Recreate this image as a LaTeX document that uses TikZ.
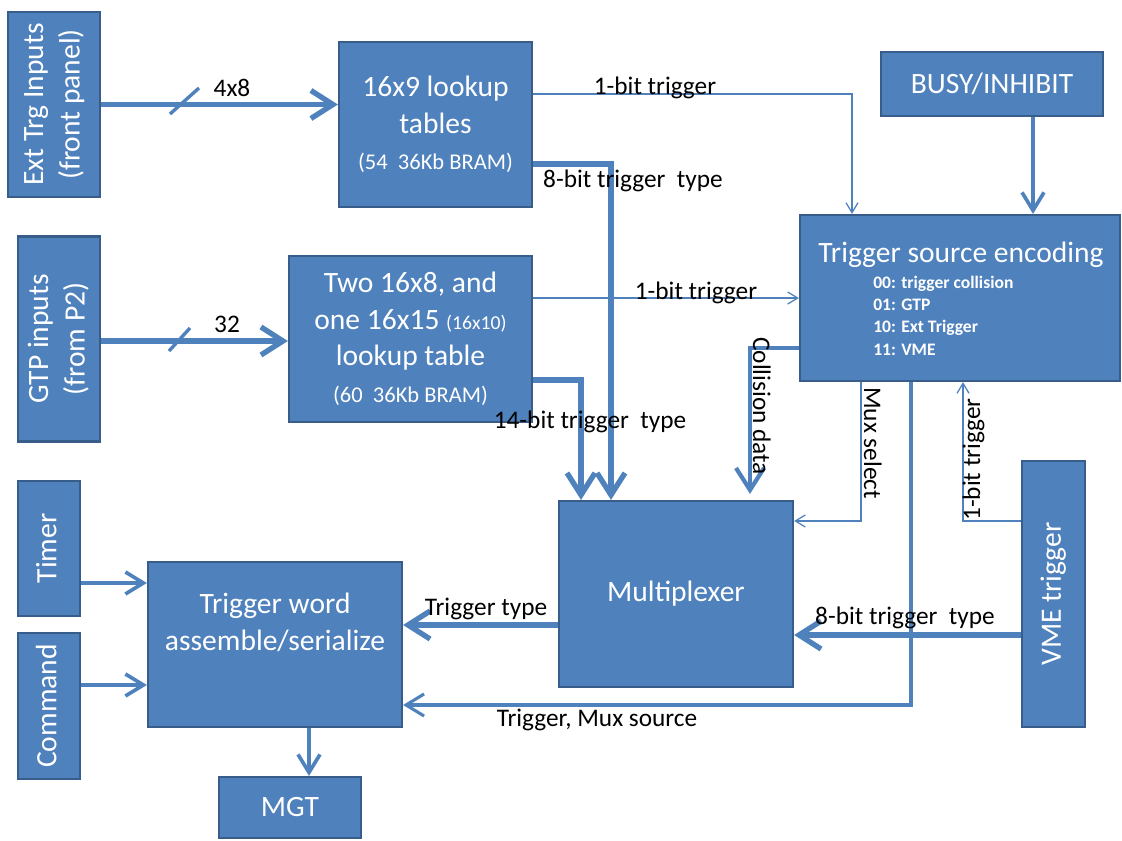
\documentclass[tikz,border=0pt]{standalone}
\usepackage{fontspec}
\setmainfont{Carlito}
\usetikzlibrary{positioning,arrows.meta,calc}
\definecolor{TrgBlue}{RGB}{79,129,189}
\definecolor{TrgEdge}{RGB}{56,93,138}
\newcommand\trgbig{\fontsize{21}{26}\selectfont}
\newcommand\trgsub{\fontsize{16}{19}\selectfont}
\newcommand\trgtiny{\fontsize{14}{17}\selectfont}
\newcommand\trglbl{\fontsize{18}{21}\selectfont}
\newcommand\trgcode{\fontsize{12.5}{15}\selectfont\bfseries}
\newcommand\vtxt[1]{\rotatebox{90}{\begin{tabular}{@{}c@{}}#1\end{tabular}}}
\tikzset{
  bigtip/.tip={Straight Barb[length=5.5mm,width=7mm]},
  midtip/.tip={Straight Barb[length=4.5mm,width=5.5mm]},
  smalltip/.tip={Straight Barb[length=2.5mm,width=3mm]},
  trg box/.style={
    draw=TrgEdge,
    line width=1.5pt,
    fill=TrgBlue,
    text=white,
    font=\trgbig,
    align=center,
    inner sep=0pt
  },
  trg inner/.style={text=white, font=\trgbig, align=center, inner sep=0pt},
  trg lbl/.style={font=\trglbl, anchor=base, inner sep=0pt},
  trg bus/.style={draw=TrgBlue, line width=3.8pt, -bigtip},
  trg wire/.style={draw=TrgBlue, line width=2.6pt, -midtip},
  trg thin/.style={draw=TrgBlue, line width=0.9pt, -smalltip},
  trg tick/.style={draw=TrgBlue, line width=2.4pt}
}
\begin{document}
\begin{tikzpicture}[x=0.025cm, y=-0.025cm]
\useasboundingbox (0,0) rectangle (1122,840);
\node[trg box, minimum width=2.3cm, minimum height=4.625cm] (exttrg) at (54,104.5) {\vtxt{Ext Trg Inputs\\(front panel)}};
\node[trg box, minimum width=4.825cm, minimum height=4.125cm] (lut1) at (435.5,124.5) {16x9 lookup\\tables\\{\trgsub (54\ \ 36Kb BRAM)}};
\node[trg box, minimum width=5.55cm, minimum height=1.6cm] (busy) at (992,84) {BUSY/INHIBIT};
\node[trg box, minimum width=8cm, minimum height=4.15cm] (enc) at (960,298) {};
\node[trg box, minimum width=2.05cm, minimum height=5.125cm] (gtp) at (59,339) {\vtxt{GTP inputs\\(from P2)}};
\node[trg box, minimum width=6.075cm, minimum height=4.15cm] (lut2) at (410.5,339) {Two 16x8, and\\one 16x15 {\trgtiny (16x10)}\\lookup table\\{\trgsub (60\ \ 36Kb BRAM)}};
\node[trg box, minimum width=5.85cm, minimum height=4.65cm] (mux) at (676,594) {Multiplexer};
\node[trg box, minimum width=1.575cm, minimum height=6.65cm] (vme) at (1053.5,594) {\vtxt{VME trigger}};
\node[trg box, minimum width=1.55cm, minimum height=3.375cm] (timer) at (49,548.5) {\vtxt{Timer}};
\node[trg box, minimum width=1.55cm, minimum height=3.65cm] (cmd) at (49,706) {\vtxt{Command}};
\node[trg box, minimum width=6.35cm, minimum height=4.125cm,
  label={[trg inner, yshift=0.55cm]center:Trigger word\\assemble/serialize}] (tword) at (275,644.5) {};
\node[trg box, minimum width=3.55cm, minimum height=1.525cm] (mgt) at (290,807.5) {MGT};

\node[trg inner, anchor=base] (enctitle) at (961,262) {Trigger source encoding};
\foreach \code [count=\i] in {00: trigger collision, 01: GTP, 10: Ext Trigger, 11: VME}
  \node[trg inner, font=\trgcode, anchor=base west] (enc\i) at (873,{265.6+22.4*\i}) {\code};

\draw[trg bus] (exttrg.east) -- (exttrg.east -| lut1.west);
\draw[trg tick] (170,114) -- (199,88);
\draw[trg bus] (gtp.east |- 0,341) -- (lut2.west |- 0,341);
\draw[trg tick] (169,351) -- (190,328);
\draw[trg thin] (lut1.east |- 0,94) -| (enc.north -| 852,0);
\draw[trg bus] (lut1.east |- 0,164) -| (mux.north -| 611,0);
\draw[trg wire] (busy.south -| 1033,0) -- (enc.north -| 1033,0);
\draw[trg thin] (lut2.east |- 0,298) -- (enc.west |- 0,298);
\draw[trg bus] (lut2.east |- 0,380) -| (mux.north -| 581,0);
\draw[trg bus, line width=3pt, shorten >=0.15cm] (enc.west |- 0,348) -| (mux.north -| 750,0);
\draw[trg thin] (enc.south -| 861,0) |- (mux.east |- 0,521);
\draw[trg wire, line width=2.2pt] (enc.south -| 911,0) |- (tword.east |- 0,705);
\draw[trg thin] (vme.west |- 0,521) -| (enc.south -| 963,0);
\draw[trg bus] (vme.west |- 0,635) -- (mux.east |- 0,635);
\draw[trg bus] (mux.west |- 0,625) -- (tword.east |- 0,625);
\draw[trg wire] (timer.east |- 0,583) -- (tword.west |- 0,583);
\draw[trg wire] (cmd.east |- 0,685) -- (tword.west |- 0,685);
\draw[trg wire] (tword.south -| 309,0) -- (mgt.north -| 309,0);

\node[trg lbl] (l4x8) at (232,97) {4x8};
\node[trg lbl] (l32) at (227,332) {32};
\node[trg lbl] (lbit1) at (655,95) {1-bit trigger};
\node[trg lbl] (ltype1) at (633,187) {8-bit trigger\ \ type};
\node[trg lbl] (lbit2) at (696,299) {1-bit trigger};
\node[trg lbl] (ltype2) at (590,428) {14-bit trigger\ \ type};
\node[trg lbl, rotate=-90, anchor=base west] (lcoll) at (753,337) {Collision data};
\node[trg lbl, rotate=-90, anchor=base west] (lmux) at (864,387) {Mux select};
\node[trg lbl, rotate=90, anchor=base west] (lbit3) at (980,521) {1-bit trigger};
\node[trg lbl] (ltype3) at (905,624) {8-bit trigger\ \ type};
\node[trg lbl] (ltt) at (486,615) {Trigger type};
\node[trg lbl] (lsrc) at (597,726) {Trigger, Mux source};
\end{tikzpicture}
\end{document}
